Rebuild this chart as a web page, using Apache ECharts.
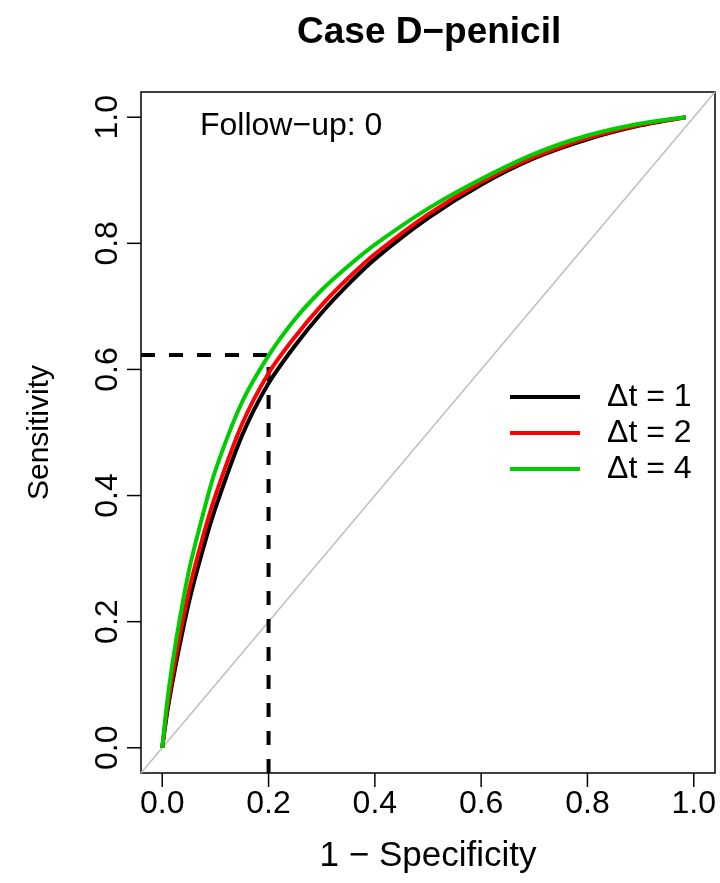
<!DOCTYPE html>
<html>
<head>
<meta charset="utf-8">
<script src="https://cdn.jsdelivr.net/npm/echarts@6/dist/echarts.min.js"></script>
<style>
	html, body { margin: 0; padding: 0; background: #fff; }
	#chart { width: 720px; height: 883px; }
</style>
</head>
<body>
<div id="chart"></div>
<script>
// false positive rate grid shared by the three curves
const fpr = [0, 0.01, 0.025, 0.05, 0.075, 0.1, 0.15, 0.2, 0.25, 0.3, 0.35, 0.4, 0.5, 0.6, 0.7, 0.8, 0.9, 0.985];
// sensitivity for each time lag
const tprDt1 = [0, 0.06, 0.13, 0.23, 0.31, 0.38, 0.495, 0.578, 0.638, 0.69, 0.735, 0.775, 0.84, 0.893, 0.935, 0.965, 0.987, 1.0];
const tprDt2 = [0, 0.066, 0.142, 0.248, 0.33, 0.4, 0.513, 0.594, 0.652, 0.702, 0.745, 0.783, 0.846, 0.897, 0.937, 0.967, 0.988, 1.0];
const tprDt4 = [0, 0.078, 0.165, 0.28, 0.365, 0.44, 0.548, 0.622, 0.68, 0.726, 0.764, 0.798, 0.855, 0.902, 0.942, 0.971, 0.99, 1.0];
const seriesNames = ["\u0394t = 1", "\u0394t = 2", "\u0394t = 4"];
const seriesColors = ["#000000", "#ff0000", "#00cd00"];
const tickValues = [0, 0.2, 0.4, 0.6, 0.8, 1.0];
// chance diagonal and the cut-off guide at 1-spec = 0.2
const diagonal = [[-0.04, -0.04], [1.04, 1.04]];
const cutX = 0.2;
const cutY = 0.623;

const font = "Liberation Sans, Arial, Helvetica, sans-serif";
const pad = 0.04;
const tickLen = 14;

function zip(xs, ys) {
	return xs.map(function (x, i) {
		return [x, ys[i]];
	});
}

const curves = [tprDt1, tprDt2, tprDt4].map(function (tpr, i) {
	return {
		name: seriesNames[i],
		type: "line",
		data: zip(fpr, tpr),
		symbol: "none",
		smooth: 0.3,
		lineStyle: { color: seriesColors[i], width: 4 },
		itemStyle: { color: seriesColors[i] },
		z: 5 + i,
		silent: true,
	};
});

const axisCommon = {
	type: "value",
	min: -pad,
	max: 1 + pad,
	axisLine: { show: false, onZero: false },
	splitLine: { show: false },
	axisTick: { show: false },
	nameLocation: "middle",
};

const textGraphics = [
	{
		type: "text",
		left: 297,
		top: 14,
		style: {
			text: "Case D\u2212penicil",
			font: "bold 37px " + font,
			fill: "#000",
		},
	},
	{
		type: "text",
		left: 200,
		top: 110,
		style: {
			text: "Follow\u2212up: 0",
			font: "32px " + font,
			fill: "#000",
		},
	},
];

const option = {
	animation: false,
	backgroundColor: "#fff",
	grid: {
		left: 141,
		right: 5,
		top: 92,
		bottom: 110,
		show: true,
		borderColor: "#000",
		borderWidth: 1.5,
		containLabel: false,
	},
	xAxis: Object.assign({}, axisCommon, {
		name: "1 \u2212 Specificity",
		nameGap: 66,
		nameTextStyle: { fontFamily: font, fontSize: 35, color: "#000" },
		axisLabel: {
			customValues: tickValues,
			formatter: function (v) { return v.toFixed(1); },
			fontFamily: font,
			fontSize: 32,
			color: "#000",
			margin: 15,
		},
	}),
	yAxis: Object.assign({}, axisCommon, {
		name: "Sensitivity",
		nameGap: 86,
		nameTextStyle: { fontFamily: font, fontSize: 30, color: "#000" },
		axisLabel: {
			customValues: tickValues,
			formatter: function (v) { return v.toFixed(1); },
			fontFamily: font,
			fontSize: 32,
			color: "#000",
			rotate: 90,
			margin: 17,
		},
	}),
	legend: {
		data: seriesNames,
		orient: "vertical",
		left: 510,
		top: 381,
		padding: 0,
		itemWidth: 70,
		itemHeight: 4,
		itemGap: 4,
		icon: "rect",
		textStyle: {
			fontFamily: font,
			fontSize: 32,
			color: "#000",
			lineHeight: 32,
			padding: [0, 0, 0, 22],
		},
		selectedMode: false,
	},
	graphic: textGraphics,
	series: [
		{
			type: "line",
			data: diagonal,
			symbol: "none",
			lineStyle: { color: "#bebebe", width: 1.5 },
			silent: true,
			z: 2,
		},
		{
			type: "line",
			data: [[-pad, cutY], [cutX, cutY]],
			symbol: "none",
			lineStyle: { color: "#000", width: 4, type: [14, 14] },
			silent: true,
			z: 3,
		},
		{
			type: "line",
			data: [[cutX, -pad], [cutX, cutY]],
			symbol: "none",
			lineStyle: { color: "#000", width: 4, type: [14, 14] },
			silent: true,
			z: 3,
		},
	].concat(curves),
};

const chartDom = document.getElementById("chart");
const chart = echarts.init(chartDom);
chart.setOption(option);

// tick marks outside the box, placed through the axes' own scales
const tickGraphics = [];
tickValues.forEach(function (v) {
	const px = chart.convertToPixel({ gridIndex: 0 }, [v, -pad]);
	tickGraphics.push({
		type: "line",
		silent: true,
		z: 100,
		shape: { x1: px[0], y1: px[1], x2: px[0], y2: px[1] + tickLen },
		style: { stroke: "#000", lineWidth: 1.5 },
	});
	const py = chart.convertToPixel({ gridIndex: 0 }, [-pad, v]);
	tickGraphics.push({
		type: "line",
		silent: true,
		z: 100,
		shape: { x1: py[0] - tickLen, y1: py[1], x2: py[0], y2: py[1] },
		style: { stroke: "#000", lineWidth: 1.5 },
	});
});
chart.setOption({ graphic: textGraphics.concat(tickGraphics) });
</script>
</body>
</html>
